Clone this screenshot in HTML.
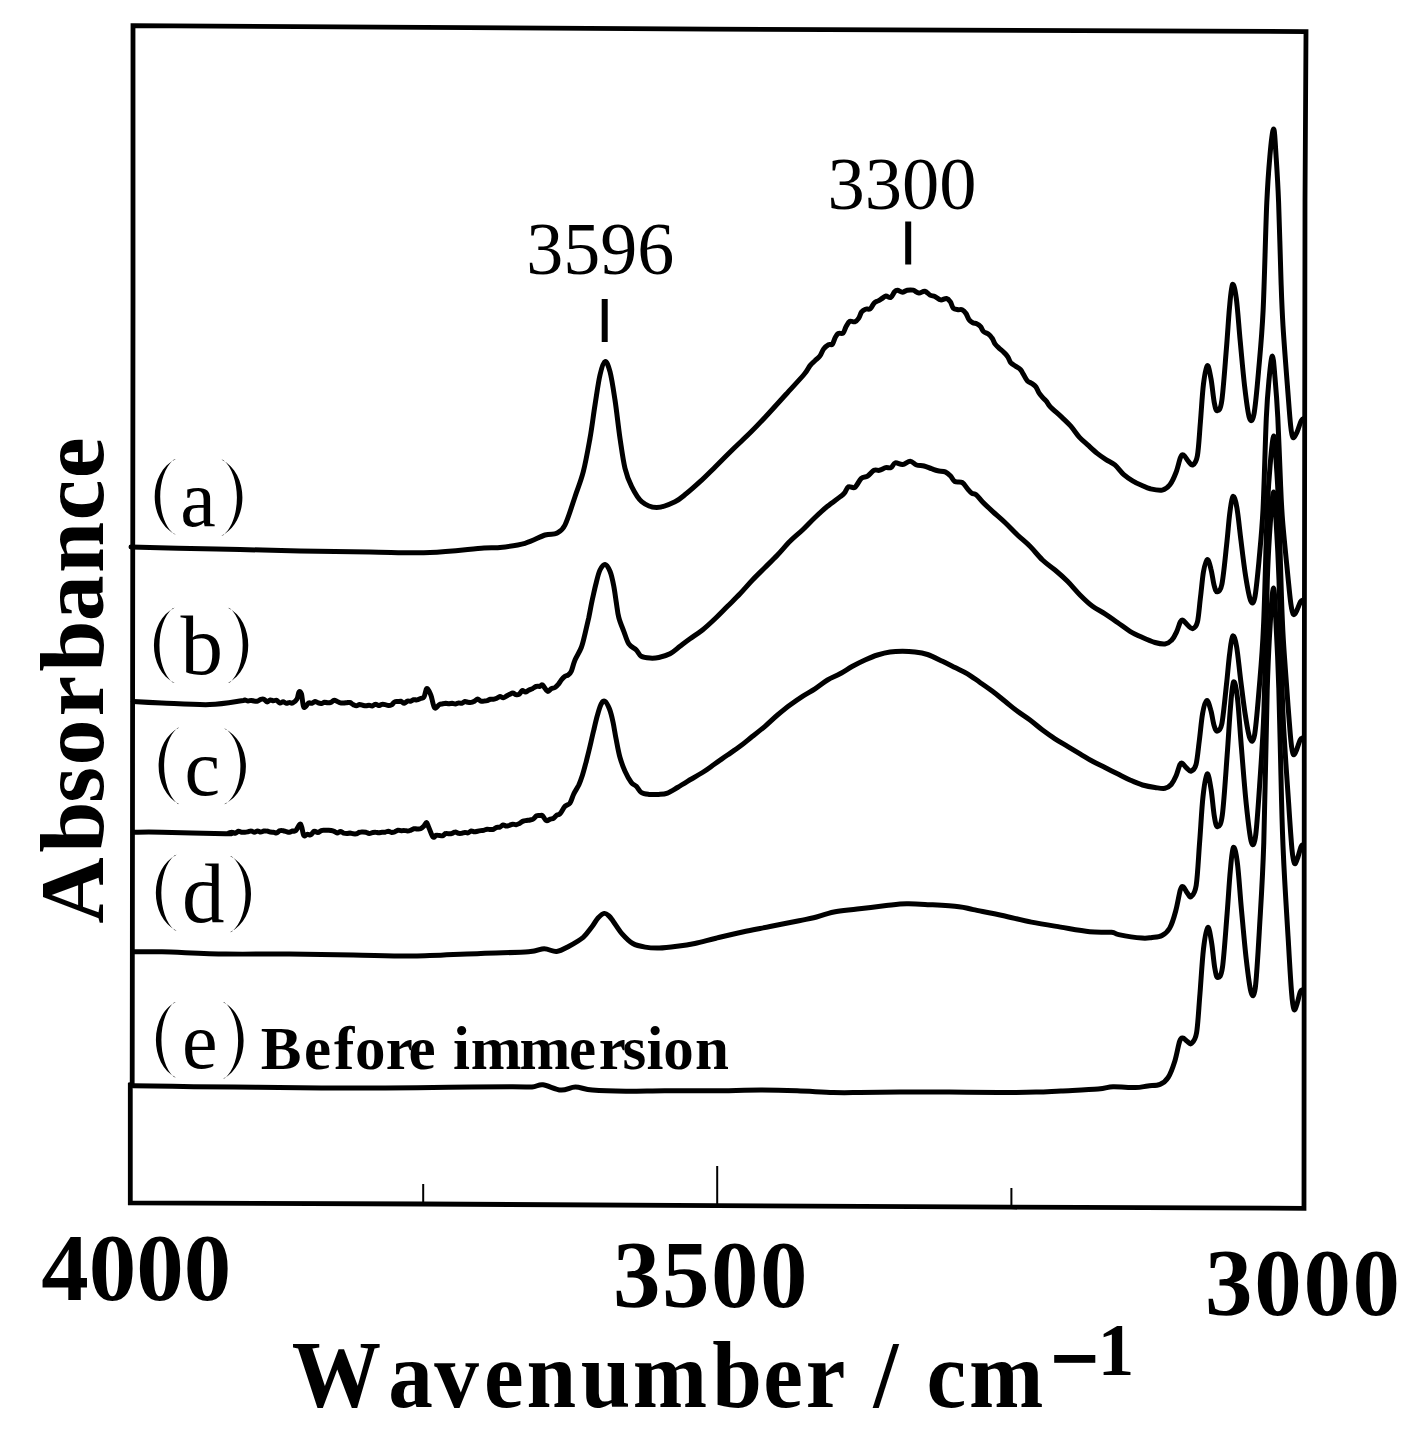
<!DOCTYPE html>
<html><head><meta charset="utf-8">
<style>
html,body{margin:0;padding:0;background:#fff;}
body{width:1411px;height:1440px;overflow:hidden;}
svg{display:block;}
text{font-family:"Liberation Serif",serif;fill:#000;}
.b{font-weight:bold;}
</style></head><body>
<svg width="1411" height="1440" viewBox="0 0 1411 1440">
<rect width="1411" height="1440" fill="#fff"/>
<!-- frame -->
<path d="M133 25.6 L710 29.2 L1306 31.6 L1305 200 L1304.3 700 L1304 1208.3 L1011 1207.2 L717 1205.7 L423 1204 L130.3 1202.8 L130.3 1084.5 L132.2 1084 L132.6 700 L133 300 Z" fill="none" stroke="#000" stroke-width="4.8" stroke-linejoin="miter"/>
<!-- bottom ticks -->
<path d="M423.2 1184 L423.2 1204 M717.2 1166 L717.2 1205 M1011.4 1188 L1011.4 1207" stroke="#000" stroke-width="2"/>
<!-- peak markers -->
<rect x="601.7" y="299" width="6" height="43" fill="#000"/>
<rect x="905.2" y="221.5" width="6" height="43" fill="#000"/>
<path d="M175.80 459.00 C147.67 472.61 147.67 520.99 175.80 534.60 L174.00 534.10 C155.60 519.48 155.60 474.12 174.00 459.50 Z" fill="#000"/>
<text x="180.2" y="525.8" font-size="80">a</text>
<path d="M221.40 459.40 C249.40 473.13 249.40 521.97 221.40 535.70 L223.20 535.20 C241.47 520.44 241.47 474.66 223.20 459.90 Z" fill="#000"/>
<path d="M174.60 607.80 C147.13 621.34 147.13 669.46 174.60 683.00 L172.80 682.50 C155.07 667.96 155.07 622.84 172.80 608.30 Z" fill="#000"/>
<text x="180.5" y="673.8" font-size="85">b</text>
<path d="M228.00 607.80 C255.07 621.34 255.07 669.46 228.00 683.00 L229.80 682.50 C247.13 667.96 247.13 622.84 229.80 608.30 Z" fill="#000"/>
<path d="M179.30 727.40 C151.70 741.22 151.70 790.38 179.30 804.20 L177.50 803.70 C159.63 788.84 159.63 742.76 177.50 727.90 Z" fill="#000"/>
<text x="184.5" y="794.6" font-size="80">c</text>
<path d="M224.10 728.60 C253.17 742.21 253.17 790.59 224.10 804.20 L225.90 803.70 C245.23 789.08 245.23 743.72 225.90 729.10 Z" fill="#000"/>
<path d="M176.60 854.70 C149.00 868.38 149.00 917.02 176.60 930.70 L174.80 930.20 C156.93 915.50 156.93 869.90 174.80 855.20 Z" fill="#000"/>
<text x="182.1" y="921.6" font-size="85">d</text>
<path d="M230.00 855.90 C258.00 869.65 258.00 918.55 230.00 932.30 L231.80 931.80 C250.07 917.02 250.07 871.18 231.80 856.40 Z" fill="#000"/>
<path d="M175.80 1002.00 C149.27 1015.61 149.27 1063.99 175.80 1077.60 L174.00 1077.10 C157.20 1062.48 157.20 1017.12 174.00 1002.50 Z" fill="#000"/>
<text x="182.1" y="1068.0" font-size="80">e</text>
<path d="M222.90 1002.00 C250.50 1015.82 250.50 1064.98 222.90 1078.80 L224.70 1078.30 C242.57 1063.44 242.57 1017.36 224.70 1002.50 Z" fill="#000"/>
<text x="526.2" y="273.6" font-size="74">3596</text>
<text x="827.4" y="208.6" font-size="74.5">3300</text>
<text class="b" x="260.8 304.0 334.1 355.1 385.7 408.6 440.0 453.0 470.8 519.4 569.1 598.8 622.6 646.5 663.3 695.1" y="1068.5" font-size="61">Before immersion</text>
<text class="b" x="41.2" y="1299.9" font-size="95">4000</text>
<text class="b" x="613.0" y="1307.4" font-size="95" textLength="194.5" lengthAdjust="spacing">3500</text>
<text class="b" x="1205.1" y="1314.9" font-size="95" textLength="195" lengthAdjust="spacing">3000</text>
<text class="b" transform="scale(0.940 1)" x="310.5 413.1 462.1 515.0 560.1 617.9 673.1 757.6 812.0 857.1 904.3 929.4 962.8 985.7 1030.9" y="1407.3" font-size="95">Wavenumber / cm</text>
<text class="b" x="1097.8" y="1375.2" font-size="73">1</text>

<text class="b" transform="rotate(-90)" x="-923.8 -852.7 -802.7 -765.5 -716.5 -671.7 -621.3 -573.0 -520.6 -478.3" y="103.3" font-size="92">Absorbance</text>
<rect x="1054.2" y="1355" width="41.1" height="7.8" fill="#000"/>
<!-- curves -->
<g fill="none" stroke="#000" stroke-width="5" stroke-linejoin="round" stroke-linecap="round">
<path d="M131.0 547.0 C138.8 547.2 159.8 547.9 178.0 548.3 C196.2 548.7 219.7 549.0 240.0 549.5 C260.3 550.0 278.3 550.6 300.0 551.0 C321.7 551.4 348.3 551.8 370.0 552.0 C391.7 552.2 411.0 553.2 430.0 552.5 C449.0 551.8 472.3 548.8 484.0 548.0 C495.7 547.2 493.2 548.3 500.0 547.5 C506.8 546.7 517.5 545.4 525.0 543.3 C532.5 541.2 539.7 536.7 545.0 535.0 C550.3 533.3 553.4 535.0 556.7 533.3 C560.0 531.6 562.0 531.1 565.0 525.0 C568.0 518.9 572.0 505.6 575.0 496.7 C578.0 487.8 580.8 481.4 583.3 471.7 C585.8 462.0 588.0 449.4 590.0 438.3 C592.0 427.2 593.3 415.6 595.0 405.0 C596.7 394.4 598.3 382.2 600.0 375.0 C601.7 367.8 603.3 362.2 605.0 361.7 C606.7 361.1 608.3 365.3 610.0 371.7 C611.7 378.1 613.3 388.9 615.0 400.0 C616.7 411.1 618.3 426.9 620.0 438.3 C621.7 449.7 623.0 460.2 625.0 468.3 C627.0 476.4 628.9 481.1 631.7 486.7 C634.5 492.3 637.5 498.2 641.7 501.7 C645.9 505.2 651.2 507.5 656.7 507.5 C662.2 507.5 670.0 504.1 675.0 501.7 C680.0 499.3 682.5 496.6 686.7 493.3 C690.9 490.0 695.2 486.1 700.0 481.7 C704.8 477.3 709.9 472.1 715.4 466.7 C720.9 461.2 727.3 454.8 733.2 449.0 C739.1 443.2 745.0 438.0 750.9 432.1 C756.8 426.2 762.7 419.9 768.6 413.5 C774.5 407.1 780.4 400.5 786.3 394.0 C792.2 387.5 800.0 379.2 804.0 374.5 C808.0 369.8 808.2 367.9 810.0 365.6 C811.8 363.3 813.3 362.2 814.9 360.7 C816.5 359.1 818.2 358.2 819.7 356.3 C821.2 354.4 822.1 350.9 823.6 349.0 C825.1 347.1 827.0 345.5 828.5 344.7 C830.0 343.9 831.3 345.4 832.4 344.2 C833.5 343.0 834.3 339.2 835.3 337.4 C836.3 335.6 836.9 334.2 838.2 333.5 C839.5 332.8 841.8 334.1 843.1 333.0 C844.4 331.9 844.9 328.6 846.0 326.7 C847.1 324.8 848.4 322.1 849.9 321.3 C851.4 320.5 853.2 322.3 854.7 321.8 C856.2 321.3 857.5 320.0 858.6 318.4 C859.7 316.8 860.4 313.6 861.5 312.1 C862.6 310.6 863.9 309.8 865.4 309.2 C866.9 308.6 868.8 309.8 870.3 308.7 C871.8 307.6 872.9 304.2 874.2 302.9 C875.5 301.6 876.8 301.6 878.1 300.9 C879.4 300.2 880.7 299.3 882.0 298.5 C883.3 297.7 884.4 296.2 885.9 296.0 C887.4 295.8 889.2 298.2 890.7 297.5 C892.2 296.8 893.5 292.9 894.6 291.7 C895.7 290.5 896.2 290.1 897.5 290.2 C898.8 290.3 900.8 292.2 902.4 292.2 C904.0 292.2 905.4 290.5 907.2 290.2 C909.0 289.9 911.2 289.7 913.1 290.2 C915.0 290.7 917.0 292.9 918.9 293.1 C920.8 293.3 922.9 290.9 924.8 291.2 C926.6 291.5 928.3 294.2 930.0 295.1 C931.7 296.0 933.1 295.7 934.9 296.5 C936.7 297.3 938.8 299.6 940.7 299.9 C942.6 300.2 944.9 298.2 946.5 298.5 C948.1 298.8 949.3 300.3 950.4 301.9 C951.5 303.5 952.0 306.9 953.3 308.2 C954.6 309.5 956.7 309.4 958.2 309.7 C959.7 309.9 960.8 309.1 962.1 309.7 C963.4 310.3 964.9 311.9 966.0 313.5 C967.1 315.1 967.8 317.8 968.9 319.4 C970.0 320.9 971.5 322.1 972.8 322.8 C974.1 323.5 975.4 323.2 976.7 323.8 C978.0 324.4 979.5 325.4 980.6 326.7 C981.7 328.0 982.2 330.3 983.5 331.5 C984.8 332.7 986.8 332.9 988.3 334.0 C989.8 335.1 991.1 336.6 992.2 338.3 C993.4 340.0 994.1 342.6 995.2 344.2 C996.3 345.8 997.5 346.7 999.0 348.1 C1000.5 349.5 1002.4 350.9 1003.9 352.4 C1005.4 353.8 1006.7 355.1 1007.8 356.8 C1008.9 358.5 1009.4 361.1 1010.7 362.7 C1012.0 364.2 1014.0 365.0 1015.6 366.1 C1017.2 367.2 1019.1 368.1 1020.4 369.5 C1021.7 370.9 1022.3 372.4 1023.4 374.3 C1024.5 376.2 1025.8 379.1 1027.2 380.7 C1028.7 382.2 1030.6 382.6 1032.1 383.6 C1033.6 384.7 1034.9 385.5 1036.0 387.0 C1037.1 388.5 1037.8 391.0 1038.9 392.8 C1040.0 394.6 1041.5 396.2 1042.8 397.7 C1044.1 399.2 1045.5 400.2 1046.7 401.6 C1047.9 403.1 1047.5 403.8 1050.0 406.4 C1052.5 409.0 1058.3 413.9 1061.7 417.1 C1065.1 420.4 1067.6 422.5 1070.6 425.9 C1073.6 429.3 1076.5 434.1 1079.5 437.4 C1082.5 440.6 1085.3 442.7 1088.3 445.4 C1091.2 448.1 1094.2 451.0 1097.2 453.4 C1100.2 455.8 1103.0 457.7 1106.0 459.6 C1109.0 461.5 1111.9 462.4 1114.9 464.9 C1117.9 467.4 1120.8 472.0 1123.8 474.6 C1126.8 477.2 1129.6 479.0 1132.6 480.8 C1135.5 482.6 1138.5 484.0 1141.5 485.3 C1144.5 486.6 1146.8 488.0 1150.3 488.8 C1153.8 489.6 1158.9 490.8 1162.2 490.1 C1165.5 489.4 1167.6 487.7 1169.9 484.8 C1172.2 481.9 1174.2 477.1 1176.0 472.5 C1177.8 467.9 1179.3 460.2 1180.6 457.3 C1181.9 454.4 1182.3 454.4 1183.6 455.0 C1184.9 455.6 1186.7 459.5 1188.2 461.1 C1189.7 462.8 1191.3 465.8 1192.8 464.9 C1194.3 464.0 1196.1 462.8 1197.4 455.7 C1198.7 448.6 1199.4 434.1 1200.4 422.1 C1201.4 410.1 1202.3 393.3 1203.5 383.9 C1204.7 374.5 1206.0 366.4 1207.3 365.6 C1208.6 364.8 1209.9 373.2 1211.1 379.3 C1212.2 385.4 1213.2 397.0 1214.2 402.2 C1215.2 407.4 1215.9 410.9 1217.2 410.7 C1218.5 410.4 1220.3 411.0 1221.8 400.7 C1223.3 390.4 1225.1 364.3 1226.4 348.8 C1227.7 333.3 1228.5 318.2 1229.5 307.5 C1230.5 296.8 1231.4 286.1 1232.5 284.6 C1233.6 283.1 1235.0 288.9 1236.3 298.3 C1237.6 307.7 1238.8 326.3 1240.2 341.1 C1241.6 355.9 1243.2 374.3 1244.7 387.0 C1246.2 399.7 1247.8 412.9 1249.3 417.5 C1250.8 422.1 1252.4 422.1 1253.9 414.5 C1255.4 406.9 1257.0 389.0 1258.5 371.7 C1260.0 354.4 1261.7 338.8 1263.1 310.6 C1264.5 282.4 1265.6 228.2 1266.8 202.3 C1268.0 176.4 1268.9 167.1 1270.0 154.9 C1271.1 142.7 1272.6 129.0 1273.6 129.0 C1274.6 129.0 1275.2 142.7 1276.0 154.9 C1276.8 167.1 1277.8 181.5 1278.6 202.3 C1279.4 223.2 1280.3 259.4 1281.0 280.0 C1281.7 300.6 1281.9 308.0 1283.0 325.8 C1284.1 343.6 1286.2 370.4 1287.5 387.0 C1288.8 403.6 1289.7 416.8 1290.6 425.2 C1291.5 433.6 1291.9 436.1 1292.9 437.4 C1293.9 438.7 1295.3 435.6 1296.7 432.8 C1298.1 430.0 1300.0 423.0 1301.3 420.6 C1302.6 418.2 1303.8 418.7 1304.3 418.3"/>
<path d="M133.2 701.5 C138.0 701.8 149.2 702.5 161.9 703.0 C174.7 703.5 196.4 705.0 209.7 704.6 C223.0 704.2 235.8 701.6 241.6 700.8 C247.4 700.0 243.7 699.9 244.8 700.0 C245.9 700.0 246.9 700.9 248.0 700.9 C249.0 701.0 250.1 700.4 251.2 700.4 C252.2 700.4 253.3 701.0 254.4 701.1 C255.4 701.3 256.5 701.5 257.6 701.2 C258.6 700.9 259.7 699.7 260.7 699.4 C261.8 699.1 262.9 698.8 263.9 699.2 C265.0 699.7 266.1 701.7 267.1 701.9 C268.2 702.0 269.2 700.2 270.3 700.0 C271.4 699.8 272.4 700.8 273.5 700.8 C274.6 700.8 275.6 699.9 276.7 700.3 C277.7 700.7 278.8 702.9 279.9 703.1 C280.9 703.4 282.0 701.8 283.1 701.8 C284.1 701.8 285.2 703.2 286.2 703.3 C287.3 703.5 288.4 702.6 289.4 702.6 C290.5 702.5 291.3 703.6 292.6 703.0 C293.9 702.4 295.9 700.9 297.0 699.0 C298.1 697.1 298.2 692.7 299.0 691.9 C299.8 691.1 300.7 691.5 301.5 694.0 C302.3 696.5 302.6 705.7 303.8 707.2 C305.0 708.7 307.3 703.7 308.6 703.0 C309.9 702.3 310.7 703.5 311.8 703.3 C312.9 703.0 313.9 701.6 315.0 701.5 C316.0 701.5 317.1 702.6 318.2 702.9 C319.2 703.3 320.3 703.6 321.4 703.5 C322.4 703.4 323.5 702.4 324.5 702.2 C325.6 702.1 326.7 702.7 327.7 702.8 C328.8 702.8 329.9 702.8 330.9 702.4 C332.0 702.0 333.0 700.4 334.1 700.3 C335.2 700.1 336.2 701.1 337.3 701.5 C338.4 701.9 339.4 702.7 340.5 702.9 C341.5 703.2 342.6 703.1 343.7 703.0 C344.7 703.0 345.8 702.8 346.8 702.7 C347.9 702.6 349.0 702.2 350.0 702.5 C351.1 702.8 352.1 704.1 353.2 704.6 C354.3 705.1 355.3 705.8 356.4 705.8 C357.5 705.8 358.5 704.6 359.6 704.5 C360.6 704.4 361.7 705.1 362.8 705.3 C363.8 705.5 364.9 705.8 366.0 705.8 C367.0 705.8 368.1 705.3 369.1 705.3 C370.2 705.3 371.3 706.1 372.3 705.9 C373.4 705.8 374.5 704.3 375.5 704.3 C376.6 704.2 377.7 705.5 378.7 705.6 C379.8 705.6 380.8 704.6 381.9 704.4 C383.0 704.3 384.0 704.4 385.1 704.6 C386.2 704.8 387.2 705.5 388.3 705.5 C389.4 705.6 390.4 705.5 391.5 704.9 C392.5 704.3 393.6 702.5 394.7 701.9 C395.7 701.3 396.8 701.6 397.9 701.6 C398.9 701.5 400.0 701.1 401.1 701.3 C402.1 701.6 403.2 703.3 404.2 703.3 C405.3 703.2 406.4 701.4 407.4 701.1 C408.5 700.8 409.6 701.5 410.6 701.2 C411.7 701.0 412.7 700.0 413.8 699.7 C414.9 699.5 415.9 700.1 417.0 699.9 C418.1 699.7 419.3 699.0 420.5 698.5 C421.7 698.0 423.0 698.6 424.0 697.0 C425.0 695.4 425.7 689.5 426.6 688.7 C427.5 687.9 428.7 690.7 429.5 692.0 C430.3 693.3 430.5 694.1 431.4 696.7 C432.2 699.3 433.3 706.5 434.6 707.8 C435.9 709.1 438.0 705.3 439.3 704.6 C440.6 703.9 441.4 704.1 442.5 703.8 C443.6 703.6 444.6 703.4 445.7 703.3 C446.8 703.3 447.8 703.7 448.9 703.7 C450.0 703.7 451.0 703.3 452.1 703.3 C453.2 703.4 454.2 704.0 455.3 704.0 C456.4 703.9 457.4 703.0 458.5 702.9 C459.6 702.7 460.6 703.5 461.7 703.3 C462.8 703.0 463.8 701.7 464.9 701.5 C466.0 701.3 467.0 702.2 468.1 702.3 C469.2 702.5 470.2 702.6 471.3 702.4 C472.3 702.2 473.4 701.6 474.5 701.1 C475.5 700.5 476.6 699.1 477.7 699.1 C478.7 699.1 479.8 700.7 480.9 701.1 C481.9 701.4 483.0 701.1 484.0 701.1 C485.1 701.0 486.2 700.9 487.2 700.6 C488.3 700.2 489.4 699.4 490.4 699.2 C491.5 699.0 492.5 699.4 493.6 699.3 C494.7 699.2 495.7 698.8 496.8 698.3 C497.9 697.8 498.9 696.7 500.0 696.6 C501.0 696.5 502.1 697.8 503.2 697.8 C504.2 697.7 505.3 696.7 506.3 696.1 C507.4 695.6 508.5 695.0 509.5 694.4 C510.6 693.9 511.6 692.9 512.7 692.9 C513.8 692.9 514.8 694.4 515.9 694.6 C516.9 694.9 518.0 694.9 519.1 694.3 C520.1 693.6 521.2 691.0 522.2 690.6 C523.3 690.2 524.4 692.1 525.4 692.1 C526.5 692.0 527.4 690.9 528.6 690.3 C529.8 689.7 531.1 689.3 532.4 688.7 C533.7 688.0 534.9 686.9 536.2 686.5 C537.5 686.1 539.0 686.6 540.0 686.3 C541.0 686.0 541.2 684.2 542.5 685.0 C543.8 685.8 546.0 690.7 547.5 691.3 C549.0 691.9 550.0 689.4 551.2 688.7 C552.5 688.1 553.9 688.2 555.0 687.5 C556.1 686.8 557.1 685.9 558.1 684.6 C559.2 683.4 560.2 681.4 561.3 680.0 C562.4 678.6 563.9 677.1 565.0 676.3 C566.1 675.5 567.1 675.8 568.1 675.0 C569.2 674.2 570.2 673.8 571.3 671.3 C572.4 668.8 573.3 664.0 575.0 660.0 C576.7 656.0 579.6 651.9 581.3 647.5 C583.0 643.1 583.8 638.8 585.0 633.8 C586.2 628.8 587.5 623.3 588.8 617.5 C590.0 611.7 591.2 604.6 592.5 598.8 C593.8 593.0 595.0 587.3 596.3 582.5 C597.5 577.7 598.5 573.0 600.0 570.0 C601.5 567.0 603.3 564.2 605.0 564.4 C606.7 564.6 608.5 567.6 610.0 571.3 C611.5 574.9 612.8 581.1 613.8 586.3 C614.8 591.5 615.5 597.3 616.3 602.5 C617.1 607.7 617.5 612.7 618.8 617.5 C620.0 622.3 622.1 626.9 623.8 631.3 C625.5 635.7 626.7 640.7 628.8 643.8 C630.9 646.9 634.2 647.9 636.3 650.0 C638.4 652.1 639.0 654.9 641.3 656.3 C643.6 657.6 647.1 657.9 650.0 658.1 C652.9 658.3 655.5 658.2 658.8 657.5 C662.1 656.8 666.5 655.7 670.0 653.8 C673.5 651.9 676.7 648.8 680.0 646.3 C683.3 643.8 686.2 641.5 690.0 638.8 C693.8 636.1 698.3 633.3 702.5 630.0 C706.7 626.7 710.8 622.8 715.0 618.8 C719.2 614.8 723.3 610.5 727.5 606.3 C731.7 602.1 735.8 598.2 740.0 593.8 C744.2 589.4 748.3 584.4 752.5 580.0 C756.7 575.6 760.8 571.7 765.0 567.5 C769.2 563.3 773.3 559.4 777.5 555.0 C781.7 550.6 785.8 545.5 790.0 541.3 C794.2 537.1 798.3 534.0 802.5 530.0 C806.7 526.0 810.8 521.5 815.0 517.5 C819.2 513.5 823.3 509.7 827.5 506.3 C831.7 502.9 837.2 499.1 840.0 496.9 C842.8 494.7 842.9 494.9 844.3 493.2 C845.7 491.5 846.7 487.8 848.5 486.8 C850.3 485.8 852.8 488.7 854.9 487.3 C857.0 485.9 859.2 480.2 861.3 478.3 C863.4 476.4 865.5 477.4 867.6 476.1 C869.7 474.8 872.0 471.3 874.0 470.3 C876.0 469.3 877.3 470.8 879.3 470.3 C881.2 469.9 883.8 468.1 885.7 467.6 C887.7 467.2 889.4 468.4 891.0 467.6 C892.6 466.8 893.3 463.4 895.3 462.9 C897.2 462.4 900.2 464.8 902.7 464.5 C905.2 464.2 907.9 461.2 910.2 461.3 C912.5 461.4 914.2 464.2 916.5 465.0 C918.8 465.8 921.5 465.4 924.0 466.0 C926.5 466.6 929.1 467.9 931.4 468.7 C933.7 469.5 935.5 470.3 937.8 470.8 C940.1 471.3 943.1 471.0 945.2 471.9 C947.3 472.8 949.0 474.5 950.6 476.1 C952.2 477.7 952.9 480.4 954.8 481.5 C956.7 482.6 960.1 481.3 962.2 482.5 C964.3 483.7 966.0 487.1 967.6 488.9 C969.2 490.7 970.4 492.2 971.8 493.2 C973.2 494.2 974.3 493.3 976.1 494.7 C977.9 496.1 979.7 498.9 982.4 501.7 C985.1 504.5 988.7 507.8 992.5 511.3 C996.3 514.8 1000.8 518.5 1005.0 522.5 C1009.2 526.5 1013.3 531.0 1017.5 535.0 C1021.7 539.0 1025.8 542.1 1030.0 546.3 C1034.2 550.5 1038.3 556.0 1042.5 560.0 C1046.7 564.0 1050.8 566.5 1055.0 570.0 C1059.2 573.5 1063.3 577.1 1067.5 581.3 C1071.7 585.5 1075.8 590.8 1080.0 595.0 C1084.2 599.2 1088.3 603.2 1092.5 606.3 C1096.7 609.4 1100.8 611.1 1105.0 613.8 C1109.2 616.5 1113.3 619.6 1117.5 622.5 C1121.7 625.4 1125.8 628.8 1130.0 631.3 C1134.2 633.8 1138.3 635.6 1142.5 637.5 C1146.7 639.4 1151.2 641.4 1155.0 642.5 C1158.8 643.6 1162.3 644.3 1165.0 644.0 C1167.7 643.7 1169.5 642.4 1171.4 640.4 C1173.4 638.4 1175.1 635.2 1176.5 632.1 C1178.0 629.0 1179.3 623.7 1180.4 621.8 C1181.5 619.8 1181.7 619.6 1182.9 620.2 C1184.1 620.8 1186.2 624.0 1187.9 625.4 C1189.5 626.8 1191.2 629.1 1192.8 628.6 C1194.4 628.1 1196.1 627.2 1197.4 622.2 C1198.6 617.2 1199.3 607.1 1200.3 598.8 C1201.4 590.5 1202.3 578.8 1203.4 572.2 C1204.6 565.7 1205.9 560.0 1207.2 559.5 C1208.5 559.0 1209.9 564.9 1211.0 569.3 C1212.2 573.6 1213.1 581.9 1214.2 585.6 C1215.2 589.4 1215.9 591.9 1217.2 591.7 C1218.5 591.5 1220.3 591.9 1221.9 584.2 C1223.5 576.4 1225.3 556.7 1226.6 545.0 C1227.9 533.2 1228.7 521.9 1229.7 513.8 C1230.8 505.7 1231.6 497.6 1232.8 496.5 C1234.0 495.4 1235.5 499.9 1236.8 507.2 C1238.2 514.6 1239.5 529.1 1241.0 540.7 C1242.4 552.3 1244.1 566.7 1245.7 576.6 C1247.3 586.6 1249.1 596.9 1250.6 600.5 C1252.1 604.1 1253.4 604.4 1254.7 598.0 C1256.1 591.5 1257.5 576.4 1258.9 561.7 C1260.2 547.0 1261.7 533.8 1263.0 509.9 C1264.2 486.0 1265.3 440.1 1266.3 418.1 C1267.3 396.1 1268.2 388.3 1269.2 377.9 C1270.2 367.6 1271.4 356.0 1272.4 356.0 C1273.4 356.0 1274.1 367.5 1275.0 377.7 C1275.9 387.9 1276.9 399.9 1277.8 417.4 C1278.7 434.9 1279.7 465.3 1280.5 482.5 C1281.2 499.8 1281.4 506.0 1282.6 520.9 C1283.8 535.8 1286.1 558.3 1287.5 572.2 C1288.9 586.1 1289.9 597.1 1290.9 604.2 C1291.9 611.2 1292.4 613.3 1293.4 614.4 C1294.4 615.5 1295.4 613.0 1296.6 610.9 C1297.8 608.8 1299.4 603.6 1300.5 601.7 C1301.5 599.9 1302.6 600.3 1303.0 600.0"/>
<path d="M133.2 832.2 C138.0 832.2 146.5 831.9 161.9 832.2 C177.3 832.5 214.5 833.7 225.7 833.8 C236.9 833.9 227.8 833.3 228.9 833.0 C229.9 832.7 231.0 832.1 232.1 832.2 C233.1 832.2 234.2 833.4 235.2 833.3 C236.3 833.1 237.4 831.5 238.4 831.3 C239.5 831.1 240.5 832.0 241.6 832.2 C242.7 832.4 243.7 832.4 244.8 832.3 C245.9 832.2 246.9 832.0 248.0 831.8 C249.0 831.6 250.1 830.9 251.2 831.0 C252.2 831.0 253.3 832.2 254.4 832.2 C255.4 832.2 256.5 830.9 257.6 830.9 C258.6 830.9 259.7 832.0 260.7 832.0 C261.8 832.0 262.9 831.2 263.9 831.0 C265.0 830.8 266.1 830.9 267.1 831.1 C268.2 831.2 269.2 831.8 270.3 832.0 C271.4 832.2 272.4 832.1 273.5 832.2 C274.6 832.3 275.6 833.1 276.7 832.9 C277.7 832.6 278.8 831.0 279.9 830.7 C280.9 830.3 282.0 830.6 283.1 830.7 C284.1 830.9 285.2 831.4 286.2 831.6 C287.3 831.9 288.4 832.4 289.4 832.3 C290.5 832.2 291.6 831.3 292.6 831.0 C293.7 830.8 294.5 831.7 295.8 830.6 C297.1 829.5 299.3 823.4 300.6 824.2 C301.9 825.0 302.7 833.7 303.8 835.4 C304.9 837.1 306.1 834.2 307.3 834.2 C308.5 834.1 309.6 835.3 310.8 834.8 C312.0 834.3 313.1 831.6 314.3 831.3 C315.5 830.9 316.6 832.7 317.8 832.6 C319.0 832.5 320.2 831.0 321.3 830.6 C322.4 830.2 323.4 830.4 324.5 830.3 C325.6 830.3 326.6 830.2 327.7 830.2 C328.7 830.3 329.8 830.3 330.9 830.5 C331.9 830.7 333.0 830.9 334.1 831.3 C335.1 831.8 336.2 833.0 337.2 833.1 C338.3 833.1 339.4 831.6 340.4 831.6 C341.5 831.6 342.6 832.7 343.6 833.1 C344.7 833.4 345.8 833.5 346.8 833.5 C347.9 833.6 348.9 833.1 350.0 833.1 C351.1 833.2 352.1 833.7 353.2 833.8 C354.3 833.9 355.3 834.0 356.4 833.8 C357.5 833.5 358.5 832.5 359.6 832.3 C360.6 832.0 361.7 832.1 362.8 832.1 C363.8 832.1 364.9 832.1 366.0 832.3 C367.0 832.6 368.1 833.5 369.1 833.5 C370.2 833.6 371.3 832.9 372.3 832.6 C373.4 832.4 374.5 832.1 375.5 832.2 C376.6 832.2 377.7 832.7 378.7 832.8 C379.8 832.8 380.8 832.3 381.9 832.2 C383.0 832.1 384.0 832.4 385.1 832.2 C386.2 832.0 387.2 831.3 388.3 831.3 C389.4 831.4 390.4 832.3 391.5 832.4 C392.5 832.5 393.6 832.2 394.7 831.8 C395.7 831.4 396.8 830.4 397.9 830.2 C398.9 830.0 400.0 830.8 401.1 830.8 C402.1 830.8 403.2 830.3 404.2 830.4 C405.3 830.4 406.4 831.0 407.4 831.0 C408.5 831.0 409.6 830.7 410.6 830.3 C411.7 829.9 412.7 828.9 413.8 828.7 C414.9 828.5 415.9 829.0 417.0 829.0 C418.1 829.0 419.3 829.3 420.5 828.8 C421.7 828.3 423.0 827.0 424.0 826.0 C425.0 825.0 425.8 822.3 426.6 822.6 C427.4 822.9 427.9 825.6 429.0 828.0 C430.1 830.4 431.8 835.8 433.0 837.0 C434.2 838.2 435.1 835.5 436.2 835.3 C437.2 835.0 438.3 835.4 439.4 835.5 C440.4 835.6 441.5 836.1 442.5 835.8 C443.6 835.5 444.7 833.8 445.7 833.5 C446.8 833.1 447.8 833.8 448.9 833.8 C450.0 833.8 451.0 833.8 452.1 833.4 C453.2 833.1 454.2 831.9 455.3 831.9 C456.3 831.8 457.4 833.1 458.5 833.3 C459.5 833.5 460.6 833.4 461.7 833.3 C462.7 833.1 463.8 832.5 464.9 832.4 C465.9 832.3 467.0 833.2 468.0 832.9 C469.1 832.7 470.2 831.2 471.2 831.0 C472.3 830.8 473.4 831.8 474.4 831.8 C475.5 831.8 476.5 831.4 477.6 831.2 C478.7 831.0 479.7 830.8 480.8 830.6 C481.9 830.4 482.9 830.4 484.0 830.2 C485.1 829.9 486.1 829.3 487.2 829.2 C488.2 829.1 489.3 829.6 490.4 829.6 C491.4 829.6 492.5 829.7 493.6 829.3 C494.6 828.9 495.7 827.7 496.8 827.3 C497.8 827.0 498.9 827.6 499.9 827.2 C501.0 826.8 502.1 825.1 503.1 824.9 C504.2 824.7 505.3 826.0 506.3 826.0 C507.4 826.1 508.4 825.6 509.5 825.3 C510.6 824.9 511.6 824.3 512.7 824.2 C513.8 824.1 515.0 824.9 516.2 824.7 C517.3 824.6 518.5 824.0 519.6 823.4 C520.8 822.8 521.9 821.6 523.1 821.1 C524.2 820.6 525.4 820.7 526.5 820.5 C527.7 820.3 528.9 820.3 530.0 820.0 C531.1 819.7 532.2 819.7 533.3 819.0 C534.4 818.3 535.6 816.3 536.7 815.7 C537.8 815.2 539.0 815.6 540.0 815.6 C541.0 815.6 541.5 814.8 542.5 815.6 C543.5 816.4 545.0 820.0 546.3 820.6 C547.6 821.2 548.8 819.7 550.0 819.2 C551.3 818.8 552.7 818.8 553.8 818.1 C554.9 817.4 555.9 815.7 556.9 815.0 C557.9 814.3 558.6 815.3 560.0 813.8 C561.4 812.3 563.3 808.1 565.0 806.3 C566.7 804.5 568.5 805.2 570.0 803.1 C571.5 801.0 572.3 796.8 573.8 793.8 C575.3 790.8 577.3 788.1 578.8 785.0 C580.2 781.9 581.2 779.0 582.5 775.0 C583.8 771.0 585.0 766.1 586.3 761.3 C587.5 756.5 588.8 751.5 590.0 746.3 C591.2 741.1 592.5 735.2 593.8 730.0 C595.0 724.8 596.2 719.4 597.5 715.0 C598.8 710.6 600.0 706.1 601.3 703.8 C602.5 701.5 603.6 700.5 605.0 701.3 C606.4 702.1 608.0 705.3 609.4 708.8 C610.8 712.3 612.0 717.3 613.1 722.5 C614.2 727.7 615.1 734.2 616.3 740.0 C617.4 745.8 618.5 752.3 620.0 757.5 C621.5 762.7 623.1 767.1 625.0 771.3 C626.9 775.5 629.4 780.0 631.3 782.5 C633.2 785.0 634.6 784.6 636.3 786.3 C638.0 788.0 639.2 791.1 641.3 792.5 C643.4 793.9 645.9 794.1 648.8 794.4 C651.7 794.7 655.7 794.6 658.8 794.4 C661.9 794.2 664.4 794.2 667.5 793.1 C670.6 792.0 674.2 789.5 677.5 787.5 C680.8 785.5 683.3 783.8 687.5 781.3 C691.7 778.8 697.9 775.4 702.5 772.5 C707.1 769.6 710.8 766.7 715.0 763.8 C719.2 760.9 723.3 757.9 727.5 755.0 C731.7 752.1 735.8 749.4 740.0 746.3 C744.2 743.2 748.3 739.6 752.5 736.3 C756.7 733.0 760.8 729.8 765.0 726.3 C769.2 722.8 773.3 718.5 777.5 715.0 C781.7 711.5 785.8 708.1 790.0 705.0 C794.2 701.9 798.3 699.0 802.5 696.3 C806.7 693.6 810.8 691.5 815.0 688.8 C819.2 686.1 823.3 682.5 827.5 680.0 C831.7 677.5 835.8 676.1 840.0 673.8 C844.2 671.5 848.3 668.6 852.5 666.3 C856.7 664.0 860.8 661.9 865.0 660.0 C869.2 658.1 873.3 656.3 877.5 655.0 C881.7 653.7 885.8 652.6 890.0 652.0 C894.2 651.4 898.3 651.3 902.5 651.3 C906.7 651.3 910.8 651.5 915.0 652.0 C919.2 652.5 922.9 653.0 927.5 654.5 C932.1 656.0 937.9 659.1 942.5 661.3 C947.1 663.5 950.8 665.4 955.0 667.5 C959.2 669.6 963.3 671.3 967.5 673.8 C971.7 676.3 975.8 679.6 980.0 682.5 C984.2 685.4 988.3 688.2 992.5 691.3 C996.7 694.4 1000.8 698.0 1005.0 701.3 C1009.2 704.6 1013.3 708.2 1017.5 711.3 C1021.7 714.4 1025.8 716.9 1030.0 720.0 C1034.2 723.1 1038.3 726.9 1042.5 730.0 C1046.7 733.1 1050.8 736.1 1055.0 738.8 C1059.2 741.5 1063.3 743.8 1067.5 746.3 C1071.7 748.8 1075.8 751.3 1080.0 753.8 C1084.2 756.3 1088.3 759.0 1092.5 761.3 C1096.7 763.6 1100.8 765.4 1105.0 767.5 C1109.2 769.6 1113.3 771.7 1117.5 773.8 C1121.7 775.9 1125.8 778.1 1130.0 780.0 C1134.2 781.9 1138.3 783.8 1142.5 785.0 C1146.7 786.2 1151.2 787.0 1155.0 787.5 C1158.8 788.0 1162.3 788.8 1165.0 788.3 C1167.7 787.8 1169.3 786.6 1171.2 784.5 C1173.0 782.4 1174.7 779.0 1176.1 775.8 C1177.5 772.5 1178.8 767.0 1179.8 764.9 C1180.8 762.9 1181.1 762.8 1182.2 763.3 C1183.3 763.8 1185.2 766.8 1186.7 768.1 C1188.1 769.4 1189.5 771.7 1191.1 771.1 C1192.7 770.5 1194.7 769.6 1196.0 764.6 C1197.4 759.5 1198.2 749.2 1199.3 740.7 C1200.4 732.2 1201.4 720.2 1202.6 713.5 C1203.8 706.8 1205.3 701.1 1206.7 700.5 C1208.1 699.9 1209.5 705.7 1210.7 709.8 C1212.0 713.9 1212.9 721.8 1214.0 725.3 C1215.1 728.9 1215.9 731.4 1217.2 731.1 C1218.5 730.8 1220.3 731.3 1221.9 723.6 C1223.4 715.8 1225.2 696.1 1226.5 684.4 C1227.8 672.7 1228.6 661.3 1229.7 653.3 C1230.7 645.2 1231.5 637.1 1232.7 636.0 C1233.9 634.9 1235.3 639.3 1236.6 646.6 C1237.9 653.8 1239.2 668.2 1240.6 679.6 C1242.1 691.0 1243.7 705.2 1245.3 715.0 C1246.8 724.8 1248.5 735.1 1250.0 738.5 C1251.5 741.9 1253.0 743.4 1254.5 735.4 C1256.0 727.4 1257.5 708.6 1259.0 690.5 C1260.5 672.3 1262.2 656.0 1263.5 626.4 C1264.9 596.8 1266.0 540.1 1267.1 512.9 C1268.3 485.6 1269.2 476.0 1270.3 463.2 C1271.4 450.3 1272.8 436.1 1273.8 436.0 C1274.8 435.9 1275.4 450.1 1276.2 462.7 C1277.1 475.4 1278.0 490.2 1278.9 511.7 C1279.7 533.2 1280.5 570.6 1281.3 591.9 C1282.0 613.1 1282.2 620.8 1283.3 639.2 C1284.4 657.6 1286.6 685.3 1287.8 702.4 C1289.1 719.5 1290.1 733.1 1291.0 741.8 C1291.9 750.5 1292.4 753.0 1293.3 754.4 C1294.2 755.8 1295.2 752.9 1296.4 750.5 C1297.5 748.0 1299.1 742.0 1300.1 740.0 C1301.1 737.9 1302.1 738.3 1302.5 738.0"/>
<path d="M133.2 951.8 C138.0 951.8 146.5 951.4 161.9 951.8 C177.3 952.2 204.4 953.6 225.7 954.0 C247.0 954.4 268.2 953.8 289.5 954.0 C310.8 954.2 331.9 954.7 353.2 955.0 C374.4 955.3 395.7 956.2 417.0 955.9 C438.3 955.6 462.2 954.1 480.8 953.4 C499.4 952.7 518.0 952.6 528.6 951.8 C539.2 951.0 539.5 948.8 544.2 948.8 C548.9 948.8 552.5 951.9 556.6 951.5 C560.7 951.1 564.6 948.6 569.0 946.2 C573.4 943.8 579.4 940.5 583.2 937.3 C587.0 934.0 589.5 929.9 592.0 926.7 C594.5 923.5 595.9 920.2 598.0 918.0 C600.1 915.8 602.6 913.7 604.4 913.4 C606.2 913.1 607.5 914.7 609.0 916.0 C610.5 917.3 611.1 918.4 613.3 921.4 C615.5 924.4 618.9 930.1 622.1 933.8 C625.4 937.5 628.9 941.3 632.8 943.5 C636.6 945.7 640.8 946.4 645.2 947.1 C649.6 947.9 654.0 948.1 659.3 948.0 C664.6 947.9 671.2 947.0 677.1 946.2 C683.0 945.5 688.3 944.8 694.8 943.5 C701.3 942.2 708.0 940.1 716.0 938.2 C724.0 936.3 733.6 934.0 742.6 932.0 C751.6 930.0 760.6 928.4 770.0 926.5 C779.4 924.6 791.8 922.2 799.1 920.7 C806.4 919.2 807.8 919.2 813.6 917.8 C819.4 916.3 826.6 913.5 833.9 912.0 C841.2 910.5 848.5 910.2 857.2 909.1 C865.9 908.0 878.0 906.5 886.2 905.6 C894.4 904.7 899.3 903.9 906.6 903.8 C913.9 903.6 921.1 904.2 929.8 904.7 C938.5 905.2 951.6 905.9 958.9 906.7 C966.2 907.5 966.1 908.1 973.4 909.6 C980.7 911.1 992.8 913.4 1002.5 915.5 C1012.2 917.6 1021.8 920.2 1031.5 922.1 C1041.2 924.0 1050.9 925.5 1060.6 927.1 C1070.3 928.7 1081.2 930.8 1089.7 931.7 C1098.2 932.6 1106.7 931.8 1111.5 932.3 C1116.3 932.8 1113.6 933.6 1118.7 934.6 C1123.8 935.6 1136.5 937.6 1142.0 938.1 C1147.5 938.6 1148.7 937.9 1152.0 937.5 C1155.3 937.1 1159.1 937.1 1162.0 935.5 C1164.9 933.9 1167.4 932.2 1169.7 928.1 C1172.0 924.1 1174.0 917.4 1175.7 911.0 C1177.5 904.7 1179.1 894.0 1180.3 889.9 C1181.6 885.8 1182.2 886.2 1183.3 886.7 C1184.4 887.2 1185.9 891.2 1187.2 892.9 C1188.5 894.5 1189.6 898.0 1191.1 896.7 C1192.6 895.4 1194.8 894.1 1196.2 885.3 C1197.6 876.5 1198.4 858.6 1199.5 843.8 C1200.7 829.0 1201.7 808.2 1203.0 796.6 C1204.3 785.0 1205.8 775.1 1207.2 774.0 C1208.6 772.9 1210.0 782.9 1211.2 790.0 C1212.3 797.1 1213.3 810.7 1214.4 816.8 C1215.4 822.9 1216.2 827.0 1217.5 826.7 C1218.8 826.4 1220.7 827.1 1222.3 815.2 C1223.9 803.4 1225.8 773.5 1227.1 755.7 C1228.5 737.8 1229.3 720.6 1230.4 708.3 C1231.4 696.0 1232.3 683.6 1233.5 682.0 C1234.7 680.4 1236.1 687.1 1237.5 698.4 C1238.8 709.7 1240.1 731.9 1241.6 749.6 C1243.0 767.3 1244.7 789.3 1246.3 804.5 C1247.9 819.7 1249.6 835.5 1251.1 841.0 C1252.6 846.5 1253.9 846.6 1255.4 837.4 C1256.8 828.1 1258.2 806.5 1259.6 785.6 C1261.0 764.6 1262.6 745.8 1263.9 711.7 C1265.2 677.5 1266.2 612.1 1267.3 580.7 C1268.4 549.3 1269.2 538.1 1270.3 523.3 C1271.3 508.6 1272.6 492.0 1273.6 492.0 C1274.6 492.0 1275.3 508.5 1276.2 523.2 C1277.1 537.9 1278.1 555.1 1279.0 580.2 C1279.9 605.4 1280.8 649.0 1281.6 673.8 C1282.4 698.6 1282.6 707.5 1283.7 728.9 C1284.9 750.4 1287.2 782.7 1288.6 802.6 C1289.9 822.6 1291.0 838.5 1291.9 848.6 C1292.9 858.7 1293.5 861.6 1294.4 863.3 C1295.3 865.0 1296.3 861.5 1297.4 858.7 C1298.5 856.0 1300.0 849.1 1301.0 846.7 C1301.9 844.3 1302.9 844.8 1303.3 844.4"/>
<path d="M133.2 1085.7 C143.3 1085.9 173.1 1086.4 193.8 1086.7 C214.5 1087.0 236.4 1087.1 257.6 1087.3 C278.9 1087.5 300.1 1087.8 321.3 1087.9 C342.6 1088.0 363.8 1088.0 385.1 1087.9 C406.4 1087.8 427.6 1087.5 448.9 1087.3 C470.2 1087.1 498.9 1086.8 512.7 1086.7 C526.6 1086.7 527.0 1087.3 532.0 1087.0 C537.0 1086.7 538.1 1084.3 542.9 1084.8 C547.7 1085.3 555.6 1089.7 561.0 1090.1 C566.4 1090.5 570.2 1087.0 575.4 1087.0 C580.6 1087.0 583.9 1089.4 592.3 1090.1 C600.7 1090.8 614.0 1091.2 626.0 1091.3 C638.0 1091.4 650.1 1090.9 664.6 1090.8 C679.1 1090.7 696.7 1090.9 712.8 1090.8 C728.9 1090.7 747.0 1090.1 761.0 1090.1 C775.0 1090.1 785.1 1090.4 797.1 1090.8 C809.1 1091.2 822.8 1092.2 833.3 1092.5 C843.8 1092.8 849.0 1092.6 860.0 1092.5 C871.0 1092.4 884.7 1092.2 899.6 1092.1 C914.5 1092.0 932.8 1092.0 949.3 1092.1 C965.8 1092.2 984.4 1092.6 998.9 1092.6 C1013.4 1092.6 1025.8 1092.4 1036.1 1092.1 C1046.4 1091.8 1050.6 1091.4 1060.9 1090.9 C1071.2 1090.4 1089.4 1089.8 1098.1 1089.1 C1106.8 1088.4 1106.8 1087.0 1113.0 1086.7 C1119.2 1086.5 1129.5 1087.7 1135.3 1087.6 C1141.1 1087.5 1143.7 1086.4 1147.8 1085.9 C1151.9 1085.4 1156.6 1085.8 1160.0 1084.4 C1163.4 1083.0 1165.8 1081.3 1168.2 1077.4 C1170.7 1073.5 1172.9 1067.2 1174.8 1061.2 C1176.7 1055.1 1178.3 1045.0 1179.7 1041.1 C1181.0 1037.3 1181.7 1038.1 1182.9 1038.1 C1184.1 1038.1 1185.7 1040.5 1187.2 1041.4 C1188.6 1042.2 1189.8 1044.9 1191.4 1043.4 C1193.0 1041.9 1195.2 1041.0 1196.6 1032.7 C1198.0 1024.3 1198.8 1007.4 1200.0 993.4 C1201.1 979.5 1202.2 959.9 1203.5 948.9 C1204.8 937.9 1206.4 928.5 1207.8 927.5 C1209.2 926.5 1210.5 935.9 1211.6 942.7 C1212.8 949.5 1213.7 962.3 1214.8 968.1 C1215.8 973.9 1216.5 977.6 1217.8 977.5 C1219.1 977.4 1220.9 977.8 1222.5 967.2 C1224.0 956.6 1225.8 929.7 1227.1 913.7 C1228.4 897.7 1229.2 882.1 1230.3 871.1 C1231.3 860.1 1232.1 849.0 1233.3 847.5 C1234.5 846.0 1236.0 852.2 1237.3 862.4 C1238.7 872.6 1239.9 892.9 1241.4 908.9 C1242.9 925.0 1244.6 945.0 1246.2 958.8 C1247.8 972.7 1249.5 987.2 1251.0 992.0 C1252.5 996.8 1253.8 998.5 1255.3 987.8 C1256.7 977.1 1258.1 952.1 1259.5 927.9 C1260.9 903.6 1262.5 881.8 1263.8 842.3 C1265.1 802.8 1266.1 727.0 1267.2 690.6 C1268.3 654.3 1269.1 641.4 1270.2 624.3 C1271.2 607.2 1272.5 588.1 1273.5 588.0 C1274.5 587.9 1275.2 606.7 1276.0 623.4 C1276.9 640.1 1277.9 659.7 1278.8 688.2 C1279.7 716.6 1280.6 766.2 1281.4 794.3 C1282.1 822.5 1282.3 832.5 1283.5 856.9 C1284.6 881.3 1286.9 917.9 1288.3 940.5 C1289.6 963.2 1290.6 981.3 1291.6 992.7 C1292.5 1004.2 1293.1 1007.4 1294.0 1009.4 C1294.9 1011.4 1295.8 1007.6 1296.8 1004.7 C1297.8 1001.8 1299.3 994.6 1300.2 992.2 C1301.1 989.7 1302.0 990.2 1302.4 989.8"/>
</g>
</svg>
</body></html>
